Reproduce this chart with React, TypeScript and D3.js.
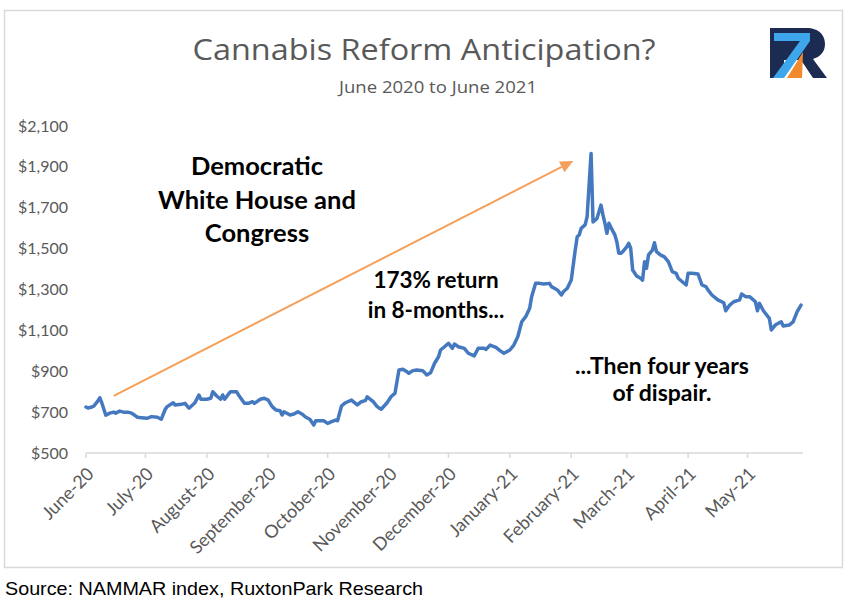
import React from 'react';
import * as d3 from 'd3';

const dates = [
  '2020-06-01','2020-06-02','2020-06-04','2020-06-05','2020-06-07','2020-06-08','2020-06-09','2020-06-11','2020-06-13','2020-06-15',
  '2020-06-16','2020-06-18','2020-06-20','2020-06-22','2020-06-24','2020-06-27','2020-06-29','2020-07-02','2020-07-04','2020-07-07',
  '2020-07-09','2020-07-11','2020-07-12','2020-07-15','2020-07-16','2020-07-19','2020-07-21','2020-07-23','2020-07-26','2020-07-28',
  '2020-07-29','2020-08-01','2020-08-03','2020-08-04','2020-08-06','2020-08-08','2020-08-09','2020-08-10','2020-08-12','2020-08-13',
  '2020-08-16','2020-08-17','2020-08-20','2020-08-22','2020-08-24','2020-08-25','2020-08-28','2020-08-30','2020-09-01','2020-09-03',
  '2020-09-05','2020-09-07','2020-09-08','2020-09-09','2020-09-12','2020-09-14','2020-09-16','2020-09-18','2020-09-20','2020-09-22',
  '2020-09-24','2020-09-25','2020-09-29','2020-10-01','2020-10-03','2020-10-05','2020-10-06','2020-10-08','2020-10-10','2020-10-13',
  '2020-10-16','2020-10-18','2020-10-20','2020-10-21','2020-10-24','2020-10-26','2020-10-28','2020-10-30','2020-10-31','2020-11-02',
  '2020-11-03','2020-11-04','2020-11-06','2020-11-08','2020-11-10','2020-11-11','2020-11-13','2020-11-15','2020-11-18','2020-11-20',
  '2020-11-22','2020-11-24','2020-11-26','2020-11-27','2020-11-29','2020-12-01','2020-12-03','2020-12-04','2020-12-06','2020-12-09',
  '2020-12-11','2020-12-14','2020-12-16','2020-12-19','2020-12-20','2020-12-22','2020-12-25','2020-12-27','2020-12-29','2021-01-01',
  '2021-01-03','2021-01-05','2021-01-07','2021-01-09','2021-01-11','2021-01-12','2021-01-14','2021-01-16','2021-01-18','2021-01-21',
  '2021-01-22','2021-01-25','2021-01-27','2021-01-28','2021-01-30','2021-02-01','2021-02-03','2021-02-04','2021-02-05','2021-02-06',
  '2021-02-08','2021-02-09','2021-02-11','2021-02-12','2021-02-14','2021-02-15','2021-02-16','2021-02-17','2021-02-18','2021-02-19',
  '2021-02-20','2021-02-21','2021-02-23','2021-02-24','2021-02-25','2021-02-26','2021-02-27','2021-03-01','2021-03-02','2021-03-03',
  '2021-03-04','2021-03-06','2021-03-08','2021-03-09','2021-03-10','2021-03-11','2021-03-12','2021-03-14','2021-03-15','2021-03-16',
  '2021-03-18','2021-03-20','2021-03-22','2021-03-24','2021-03-26','2021-03-27','2021-03-31','2021-04-01','2021-04-03','2021-04-06',
  '2021-04-08','2021-04-10','2021-04-11','2021-04-13','2021-04-16','2021-04-19','2021-04-20','2021-04-22','2021-04-24','2021-04-27',
  '2021-04-28','2021-04-30','2021-05-02','2021-05-05','2021-05-06','2021-05-07','2021-05-09','2021-05-12','2021-05-13','2021-05-15',
  '2021-05-18','2021-05-19','2021-05-22','2021-05-24','2021-05-26','2021-05-28',
];

const values = [
  725,720,725,730,755,770,745,685,695,700,
  695,705,700,700,695,675,673,670,678,675,
  665,714,727,746,735,738,743,719,746,784,
  763,763,768,800,779,763,784,763,789,800,
  800,784,743,743,751,743,763,768,759,727,
  710,707,686,702,686,691,702,691,675,665,
  637,658,658,645,653,661,658,730,746,759,
  735,751,756,775,751,727,714,735,746,775,
  784,792,906,910,898,890,903,906,903,882,
  893,939,971,1004,1020,1037,1012,1033,1020,1012,
  988,975,1012,1012,1007,1028,1017,1001,988,1004,
  1028,1069,1142,1167,1208,1265,1330,1330,1327,1330,
  1314,1298,1273,1289,1306,1346,1493,1558,1567,1599,
  1616,1656,1966,1630,1648,1681,1713,1665,1624,1575,
  1624,1604,1567,1534,1477,1477,1485,1509,1526,1502,
  1395,1366,1355,1346,1436,1404,1469,1493,1529,1485,
  1469,1460,1436,1387,1379,1355,1322,1379,1379,1376,
  1322,1314,1298,1273,1249,1235,1196,1224,1240,1249,
  1278,1265,1265,1240,1196,1232,1196,1159,1102,1126,
  1142,1121,1126,1142,1191,1224,
];

const yTicks = [500, 700, 900, 1100, 1300, 1500, 1700, 1900, 2100];
const monthTicks = ['2020-06-01','2020-07-01','2020-08-01','2020-09-01','2020-10-01','2020-11-01','2020-12-01','2021-01-01','2021-02-01','2021-03-01','2021-04-01','2021-05-01'];
const monthLabels = ['June-20','July-20','August-20','September-20','October-20','November-20','December-20','January-21','February-21','March-21','April-21','May-21'];

const arrowDates = ['2020-06-15', '2021-02-02'];
const arrowValues = [779, 1929];

const titleText = 'Cannabis Reform Anticipation?';
const subtitleText = 'June 2020 to June 2021';
const noteLeft = ['Democratic', 'White House and', 'Congress'];
const noteMid = ['173% return', 'in 8-months...'];
const noteRight = ['...Then four years', 'of dispair.'];
const sourceText = 'Source: NAMMAR index, RuxtonPark Research';

const GRAY = '#595959';
const BLUE = '#4479c0';
const ORANGE = '#f5a05a';
const FONT = 'Lato, "Open Sans", sans-serif';

export default function App() {
  const W = 848, H = 603;
  const parse = d3.utcParse('%Y-%m-%d');
  const x = d3.scaleUtc().domain([parse('2020-06-01')!, parse('2021-05-29')!]).range([86, 803]);
  const y = d3.scaleLinear().domain([500, 2100]).range([453, 126]);
  const data = dates.map((d, i) => ({ date: parse(d)!, value: values[i] }));
  const line = d3.line<{ date: Date; value: number }>().x(d => x(d.date)).y(d => y(d.value));

  const ax0 = x(parse(arrowDates[0])!), ay0 = y(arrowValues[0]);
  const ax1 = x(parse(arrowDates[1])!), ay1 = y(arrowValues[1]);
  const ang = Math.atan2(ay1 - ay0, ax1 - ax0);
  const headL = 13, headW = 6;
  const bx = ax1 - headL * Math.cos(ang), by = ay1 - headL * Math.sin(ang);
  const px = -Math.sin(ang) * headW, py = Math.cos(ang) * headW;

  return (
    <svg width={W} height={H} style={{ position: 'absolute', left: 0, top: 0, background: '#fff' }}>
      <rect x={4.5} y={10.5} width={838} height={557} fill="#fff" stroke="#d9d9d9" strokeWidth={1.5} />

      <text x={424} y={60} textAnchor="middle" fontFamily='"Open Sans", sans-serif' fontSize={29} fill={GRAY}
        textLength={463} lengthAdjust="spacingAndGlyphs">{titleText}</text>
      <text x={438} y={93} textAnchor="middle" fontFamily='"Open Sans", sans-serif' fontSize={17} fill={GRAY}
        textLength={198} lengthAdjust="spacingAndGlyphs">{subtitleText}</text>

      {/* logo */}
      <g transform="translate(770,28)">
        <path d="M0,0 H36 C50,0 55,8 55,16 C55,24 50,29 43,31 L57,50 H43 L31,32 H14 V50 H0 Z" fill="#1c2b52" />
        <path d="M4,5 H40 V13 L14,50 H3 L30,13 H4 Z" fill="#3ea6ea" />
        <path d="M17,50 L33,24 L32,50 Z" fill="#f08a2c" />
      </g>

      {/* y axis labels */}
      {yTicks.map(t => (
        <text key={t} x={68} y={y(t)} dy="0.35em" textAnchor="end" fontFamily={FONT} fontSize={16} fill={GRAY}>
          {d3.format('$,')(t)}
        </text>
      ))}

      {/* x axis */}
      <line x1={86} x2={803} y1={453} y2={453} stroke="#d9d9d9" strokeWidth={1.5} />
      {monthTicks.map((m, i) => {
        const tx = x(parse(m)!);
        return (
          <g key={m}>
            <line x1={tx} x2={tx} y1={453} y2={458} stroke="#d9d9d9" strokeWidth={1.5} />
            <text transform={`translate(${tx + 9},${475}) rotate(-45)`} textAnchor="end" fontFamily={FONT}
              fontSize={18} fill={GRAY}>{monthLabels[i]}</text>
          </g>
        );
      })}

      {/* arrow */}
      <line x1={ax0} y1={ay0} x2={bx} y2={by} stroke={ORANGE} strokeWidth={2} />
      <polygon points={`${ax1},${ay1} ${bx + px},${by + py} ${bx - px},${by - py}`} fill={ORANGE} />

      {/* data line */}
      <path d={line(data) || ''} fill="none" stroke={BLUE} strokeWidth={3.5} strokeLinejoin="round" strokeLinecap="round" />

      {/* annotations */}
      {noteLeft.map((t, i) => (
        <text key={t} x={257} y={175 + i * 33.5} textAnchor="middle" fontFamily={FONT} fontWeight="bold" fontSize={25.5} fill="#000">{t}</text>
      ))}
      {noteMid.map((t, i) => (
        <text key={t} x={436} y={288 + i * 30} textAnchor="middle" fontFamily={FONT} fontWeight="bold" fontSize={22.5} fill="#000">{t}</text>
      ))}
      {noteRight.map((t, i) => (
        <text key={t} x={662} y={374 + i * 27} textAnchor="middle" fontFamily={FONT} fontWeight="bold" fontSize={23} fill="#000">{t}</text>
      ))}

      <text x={5} y={595} fontFamily='"Liberation Sans", Arial, sans-serif' fontSize={19} fill="#000"
        textLength={418} lengthAdjust="spacingAndGlyphs">{sourceText}</text>
    </svg>
  );
}
